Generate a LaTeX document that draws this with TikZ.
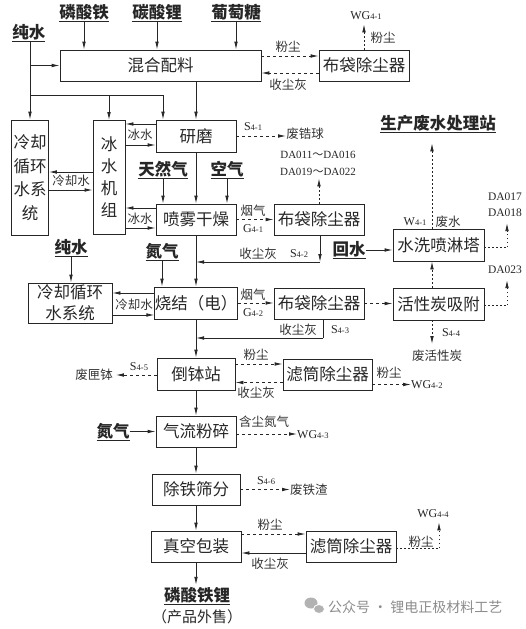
\documentclass[tikz,border=0pt]{standalone}
\usepackage{fontspec}
\setmainfont{Noto Sans CJK SC}
\newfontfamily\lat{Liberation Serif}
\usetikzlibrary{arrows.meta}
\newcommand\tg[2]{#1{\fontsize{8.5}{8.5}\selectfont#2}}
\begin{document}
\begin{tikzpicture}[x=1pt,y=-1pt,
  every node/.style={inner sep=0pt, text=black!85},
  box/.style={draw=black!85, line width=0.8pt, font=\fontsize{16.5}{16.5}\selectfont},
  ln/.style={draw=black!85, line width=0.8pt},
  arr/.style={ln, -{Latex[length=8pt,width=3.6pt]}},
  darr/.style={arr, dash pattern=on 3pt off 3pt},
  dln/.style={ln, dash pattern=on 3pt off 3pt},
  tarr/.style={arr, dash pattern=on 1.5pt off 2.5pt},
  tln/.style={ln, dash pattern=on 1.5pt off 2.5pt},
  lbl/.style={font=\fontsize{12.5}{12.5}\selectfont, text=black!80},
  code/.style={font=\lat\fontsize{12}{12}\selectfont},
  head/.style={font=\bfseries\fontsize{16.5}{16.5}\selectfont},
]
\useasboundingbox (0,0) rectangle (525,629);

% ---------- boxes ----------
\node[box, minimum width=201pt, minimum height=31pt] (mix) at (160.5,65.5) {混合配料};
\node[box, minimum width=90pt, minimum height=31pt] (bag1) at (364,65.5) {布袋除尘器};
\node[box, minimum width=37pt, minimum height=115pt, align=center,
      font=\fontsize{16.5}{23.5}\selectfont] (cool1) at (30,177.5) {冷却\\循环\\水系\\统};
\node[box, minimum width=32pt, minimum height=114pt, align=center,
      font=\fontsize{16.5}{22}\selectfont] (ice) at (109,177.5) {冰\\水\\机\\组};
\node[box, minimum width=80pt, minimum height=32pt] (grind) at (196,136) {研磨};
\node[box, minimum width=80pt, minimum height=31pt] (spray) at (196,219.5) {喷雾干燥};
\node[box, minimum width=90pt, minimum height=31pt] (bag2) at (319,219.5) {布袋除尘器};
\node[box, minimum width=91pt, minimum height=32pt] (wash) at (438.5,245) {水洗喷淋塔};
\node[box, minimum width=84pt, minimum height=40pt, align=center,
      font=\fontsize{16.5}{21}\selectfont] (cool2) at (70,303) {冷却循环\\水系统};
\node[box, minimum width=80pt, minimum height=32pt] (sinter) at (196,303) {烧结（电）};
\node[box, minimum width=90pt, minimum height=31pt] (bag3) at (319,303.5) {布袋除尘器};
\node[box, minimum width=91pt, minimum height=32pt] (carbon) at (438.5,304) {活性炭吸附};
\node[box, minimum width=78pt, minimum height=32pt] (dump) at (196,374) {倒钵站};
\node[box, minimum width=89pt, minimum height=31pt] (filt1) at (327.5,374.5) {滤筒除尘器};
\node[box, minimum width=80pt, minimum height=31pt] (mill) at (196,431.5) {气流粉碎};
\node[box, minimum width=88pt, minimum height=31pt] (iron) at (196,489.5) {除铁筛分};
\node[box, minimum width=90pt, minimum height=31pt] (pack) at (196,546.5) {真空包装};
\node[box, minimum width=90pt, minimum height=31pt] (filt2) at (351,546.5) {滤筒除尘器};

% ---------- raw materials ----------
\node[head] (fe) at (84,13) {\underline{磷酸铁}};
\node[head] (li) at (157,13) {\underline{碳酸锂}};
\node[head] (glu) at (236,13) {\underline{葡萄糖}};
\node[head] (pw1) at (29,33) {\underline{纯水}};
\draw[arr] (fe.south) -- (fe.south |- mix.north);
\draw[arr] (li.south) -- (li.south |- mix.north);
\draw[arr] (glu.south) -- (glu.south |- mix.north);

\coordinate (j1) at (30,65.5);
\coordinate (j2) at (30,95);
\coordinate (gi) at (163,95);
\draw[ln] (pw1.south -| j1) -- (j2);
\draw[arr] (j1) -- (mix.west |- j1);
\draw[arr] (j2) -- (cool1.north);
\draw[ln] (j2) -- (gi);
\draw[arr] (j2 -| ice.north) -- (ice.north);
\draw[arr] (gi) -- (gi |- grind.north);
\draw[arr] (mix.south -| grind.north) -- (grind.north);

% ---------- mixing dust ----------
\draw[darr] ([yshift=9.5pt]mix.east) -- ([yshift=9.5pt]mix.east -| bag1.west);
\draw[darr] ([yshift=-7.5pt]bag1.west) -- ([yshift=-7.5pt]bag1.west -| mix.east);
\node[lbl] at (288,47) {粉尘};
\node[lbl] at (288,85) {收尘灰};
\node[code] (wg1) at (366,16) {\tg{WG}{4-1}};
\draw[tarr] (bag1.north) -- ([yshift=-4pt]bag1.north |- wg1.south);
\node[lbl] at (383,38) {粉尘};

% ---------- cooling / ice water ----------
\draw[arr] ([yshift=5.5pt]ice.west) -- ([yshift=5.5pt]ice.west -| cool1.east);
\draw[arr] ([yshift=-12.5pt]cool1.east) -- ([yshift=-12.5pt]cool1.east -| ice.west);
\node[lbl] at (71,181) {冷却水};
\draw[arr] ([yshift=12pt]grind.west) -- ([yshift=12pt]grind.west -| ice.east);
\draw[arr] ([yshift=-9pt]ice.east |- grind.west) -- ([yshift=-9pt]grind.west);
\node[lbl] at (140,135) {冰水};
\draw[arr] ([yshift=11.5pt]spray.west) -- ([yshift=11.5pt]spray.west -| ice.east);
\draw[arr] ([yshift=-8.5pt]ice.east |- spray.west) -- ([yshift=-8.5pt]spray.west);
\node[lbl] at (140,219) {冰水};

% ---------- grinding ----------
\node[lbl] (zr) at (305,134) {废锆球};
\draw[darr] (grind.east) -- (grind.east -| zr.west);
\node[code] at (253,127) {\tg{S}{4-1}};

% ---------- spray drying ----------
\node[head] (ng) at (163,170) {\underline{天然气}};
\node[head] (air) at (227,170) {\underline{空气}};
\draw[arr] (ng.south) -- (ng.south |- spray.north);
\draw[arr] (air.south) -- (air.south |- spray.north);
\draw[arr] (grind.south) -- (spray.north);
\draw[darr] (spray.east) -- (bag2.west);
\node[lbl] at (253,211) {烟气};
\node[code] at (253,229) {\tg{G}{4-1}};
\node[code, align=center, font=\lat\fontsize{11}{17}\selectfont] (da1) at (318,163) {DA011{\fontsize{11}{11}\selectfont\rmfamily ～}DA016\\DA019{\fontsize{11}{11}\selectfont\rmfamily ～}DA022};
\draw[tarr] (bag2.north) -- ([yshift=-3pt]bag2.north |- da1.south);
\coordinate (c2) at (320,262);
\draw[arr] (bag2.south -| c2) -- (c2);
\draw[arr] (c2) -- (c2 -| spray.south);
\node[lbl] at (258,254) {收尘灰};
\node[code] at (299,254) {\tg{S}{4-2}};
\draw[arr] (spray.south) -- (sinter.north);

% ---------- sintering ----------
\node[head] (pw2) at (71,248) {\underline{纯水}};
\node[head] (n1) at (162,252) {\underline{氮气}};
\draw[arr] (pw2.south) -- (pw2.south |- cool2.north);
\draw[arr] (n1.south) -- (n1.south |- sinter.north);
\draw[arr] ([yshift=10pt]sinter.west) -- ([yshift=10pt]sinter.west -| cool2.east);
\draw[arr] ([yshift=-12pt]cool2.east) -- ([yshift=-12pt]sinter.west);
\node[lbl] at (134,305) {冷却水};
\draw[darr] (sinter.east) -- (sinter.east -| bag3.west);
\node[lbl] at (253,295) {烟气};
\node[code] at (253,313) {\tg{G}{4-2}};
\draw[darr] (bag3.east) -- (bag3.east -| carbon.west);
\coordinate (c3) at (323,338);
\draw[ln] (bag3.south -| c3) -- (c3);
\draw[arr] (c3) -- (c3 -| sinter.south);
\node[lbl] at (298,330) {收尘灰};
\node[code] at (340,330) {\tg{S}{4-3}};
\draw[arr] (sinter.south) -- (dump.north);

% ---------- waste water / carbon ----------
\node[head] (ww) at (438,124) {\underline{生产废水处理站}};
\draw[tarr] ([xshift=-6.5pt]wash.north) -- ([xshift=-6.5pt,yshift=-10pt]wash.north |- ww.south);
\node[code] at (415,222) {\tg{W}{4-1}};
\node[lbl] at (448,222) {废水};
\node[head] (hs) at (349,250) {\underline{回水}};
\draw[arr] (hs.east |- 0,250) -- (wash.west |- 0,250);
\coordinate (c5) at (507,247);
\node[code, align=center, font=\lat\fontsize{11.5}{16}\selectfont] (da2) at (505,205) {DA017\\DA018};
\draw[tln] (wash.east |- c5) -- (c5);
\draw[tarr] (c5) -- ([yshift=-6pt]c5 |- da2.south);
\draw[tarr] ([xshift=-6.5pt]carbon.north) -- ([xshift=-6.5pt]wash.south);
\coordinate (c6) at (507,305);
\node[code, font=\lat\fontsize{11.5}{11.5}\selectfont] (da3) at (505,270) {DA023};
\draw[tln] (carbon.east |- c6) -- (c6);
\draw[tarr] (c6) -- ([yshift=-6pt]c6 |- da3.south);
\node[lbl] (fc) at (437,356) {废活性炭};
\draw[tarr] ([xshift=-6.5pt]carbon.south) -- ([xshift=-6.5pt,yshift=6pt]carbon.south |- fc.north);
\node[code] at (451,333) {\tg{S}{4-4}};

% ---------- dumping station ----------
\draw[darr] ([yshift=10pt]dump.east) -- ([yshift=10pt]dump.east -| filt1.west);
\draw[darr] ([yshift=-8pt]filt1.west) -- ([yshift=-8pt]filt1.west -| dump.east);
\node[lbl] at (256,355) {粉尘};
\node[lbl] at (256,393) {收尘灰};
\node[lbl] at (389,373) {粉尘};
\node[code, anchor=west] (wg2) at (411,385) {\tg{WG}{4-2}};
\draw[darr] ([yshift=-10pt]filt1.east) -- (wg2.west |- 0,384.5);
\node[lbl] (sg) at (94,375) {废匣钵};
\draw[darr] (dump.west |- sg) -- ([xshift=3pt]sg.east);
\node[code] at (139,367) {\tg{S}{4-5}};
\draw[arr] (dump.south) -- (mill.north);

% ---------- jet mill ----------
\node[head] (n2) at (113,432) {\underline{氮气}};
\draw[arr] (n2.east |- mill.west) -- (mill.west);
\node[lbl] at (264,422) {含尘氮气};
\node[code, anchor=west] (wg3) at (297,435) {\tg{WG}{4-3}};
\draw[darr] ([yshift=-2.5pt]mill.east) -- (wg3.west |- 0,434);
\draw[arr] (mill.south) -- (iron.north);

% ---------- iron removal ----------
\node[code] at (266,481) {\tg{S}{4-6}};
\node[lbl, anchor=west] (fe2) at (290,489.5) {废铁渣};
\draw[darr] (iron.east) -- (fe2.west);
\draw[arr] (iron.south) -- (pack.north);

% ---------- packing ----------
\draw[darr] ([yshift=12.5pt]pack.east) -- ([yshift=12.5pt]pack.east -| filt2.west);
\draw[arr] ([yshift=-6.5pt]filt2.west) -- ([yshift=-6.5pt]filt2.west -| pack.east);
\node[lbl] at (270,525) {粉尘};
\node[lbl] at (270,564) {收尘灰};
\coordinate (c4) at (439,548);
\node[code] (wg4) at (433,514) {\tg{WG}{4-4}};
\draw[tln] (filt2.east |- c4) -- (c4);
\draw[tarr] (c4) -- ([yshift=-4pt]c4 |- wg4.south);
\node[lbl] at (421,542) {粉尘};

\node[head] (prod) at (197,596) {\underline{磷酸铁锂}};
\draw[arr] (pack.south) -- ([yshift=2pt]pack.south |- prod.north);
\node[font=\fontsize{15}{15}\selectfont] at (197,617) {（产品外售）};

% ---------- watermark ----------
\fill[black!30] (311,603) ellipse [x radius=6.5, y radius=5.5];
\fill[black!30, draw=white, line width=0.8pt] (319,609) ellipse [x radius=5.5, y radius=4.5];
\node[font=\fontsize{14}{14}\selectfont, text=black!45, anchor=west] at (328,607) {公众号 · 锂电正极材料工艺};
\end{tikzpicture}
\end{document}
